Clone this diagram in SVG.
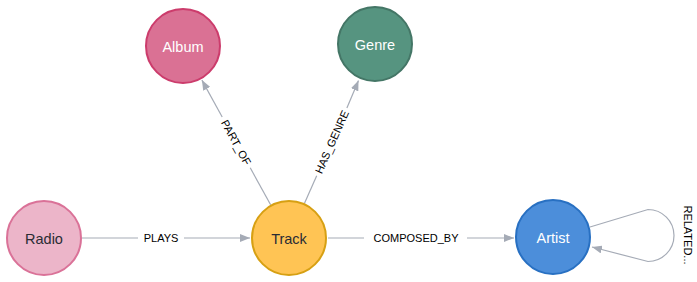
<svg xmlns="http://www.w3.org/2000/svg" width="697" height="282" viewBox="0 0 697 282">
  <style>
    .node circle { stroke-width: 2; }
    .node text { font-family: "Liberation Sans", Arial, sans-serif; font-size: 14.5px; text-anchor: middle; dominant-baseline: central; }
    .light { fill: #ffffff; }
    .dark { fill: #2a2c34; }
    .edge { stroke: #a5abb6; stroke-width: 1.2; fill: none; }
    .elabel { font-family: "Liberation Sans", Arial, sans-serif; font-size: 11px; fill: #000000; text-anchor: middle; dominant-baseline: central; }
  </style>
  <defs>
    <marker id="arrow" viewBox="0 0 10 8" refX="10" refY="4" markerWidth="10" markerHeight="8" markerUnits="userSpaceOnUse" orient="auto">
      <path d="M0,0 L10,4 L0,8 z" fill="#a5abb6"/>
    </marker>
  </defs>

  <rect width="697" height="282" fill="#ffffff"/>

  <g id="connectors">
    <!-- Radio -> Track -->
    <line class="edge" x1="82" y1="238" x2="138" y2="238"/>
    <line class="edge" x1="184" y1="238" x2="250" y2="238" marker-end="url(#arrow)"/>
    <text class="elabel" x="161" y="238">PLAYS</text>

    <!-- Track -> Artist -->
    <line class="edge" x1="328" y1="238" x2="364" y2="238"/>
    <line class="edge" x1="467" y1="238" x2="514" y2="238" marker-end="url(#arrow)"/>
    <text class="elabel" x="416" y="238">COMPOSED_BY</text>

    <!-- Track -> Album -->
    <line class="edge" x1="270.6" y1="204.7" x2="250.2" y2="167.8"/>
    <line class="edge" x1="222.2" y1="117.0" x2="201.9" y2="80.1" marker-end="url(#arrow)"/>
    <text class="elabel" transform="translate(236.2 142.4) rotate(61.1)">PART_OF</text>

    <!-- Track -> Genre -->
    <line class="edge" x1="304.5" y1="203.3" x2="316.7" y2="175.7"/>
    <line class="edge" x1="346.9" y1="108.1" x2="358.5" y2="80.6" marker-end="url(#arrow)"/>
    <text class="elabel" transform="translate(331.8 141.9) rotate(-66)">HAS_GENRE</text>

    <!-- Artist -> Artist -->
    <path class="edge" d="M590,227 L648,209.5 A26,26 0 0 1 648,261.5 L592,247" marker-end="url(#arrow)"/>
    <text class="elabel" transform="translate(688 235) rotate(90)">RELATED...</text>
  </g>

  <g id="album" class="node">
    <circle cx="183" cy="46" r="37" fill="#da7194" stroke="#cc3c6c"/>
    <text class="light" x="183" y="47">Album</text>
  </g>
  <g id="genre" class="node">
    <circle cx="375" cy="44" r="37" fill="#569480" stroke="#447666"/>
    <text class="light" x="375" y="45">Genre</text>
  </g>
  <g id="radio" class="node">
    <circle cx="44" cy="238" r="37" fill="#ecb5c9" stroke="#da7298"/>
    <text class="dark" x="44" y="239">Radio</text>
  </g>
  <g id="track" class="node">
    <circle cx="289" cy="238" r="37" fill="#ffc454" stroke="#d7a013"/>
    <text class="dark" x="289" y="239">Track</text>
  </g>
  <g id="artist" class="node">
    <circle cx="553" cy="237" r="37" fill="#4c8eda" stroke="#2870c2"/>
    <text class="light" x="553" y="238">Artist</text>
  </g>
</svg>
